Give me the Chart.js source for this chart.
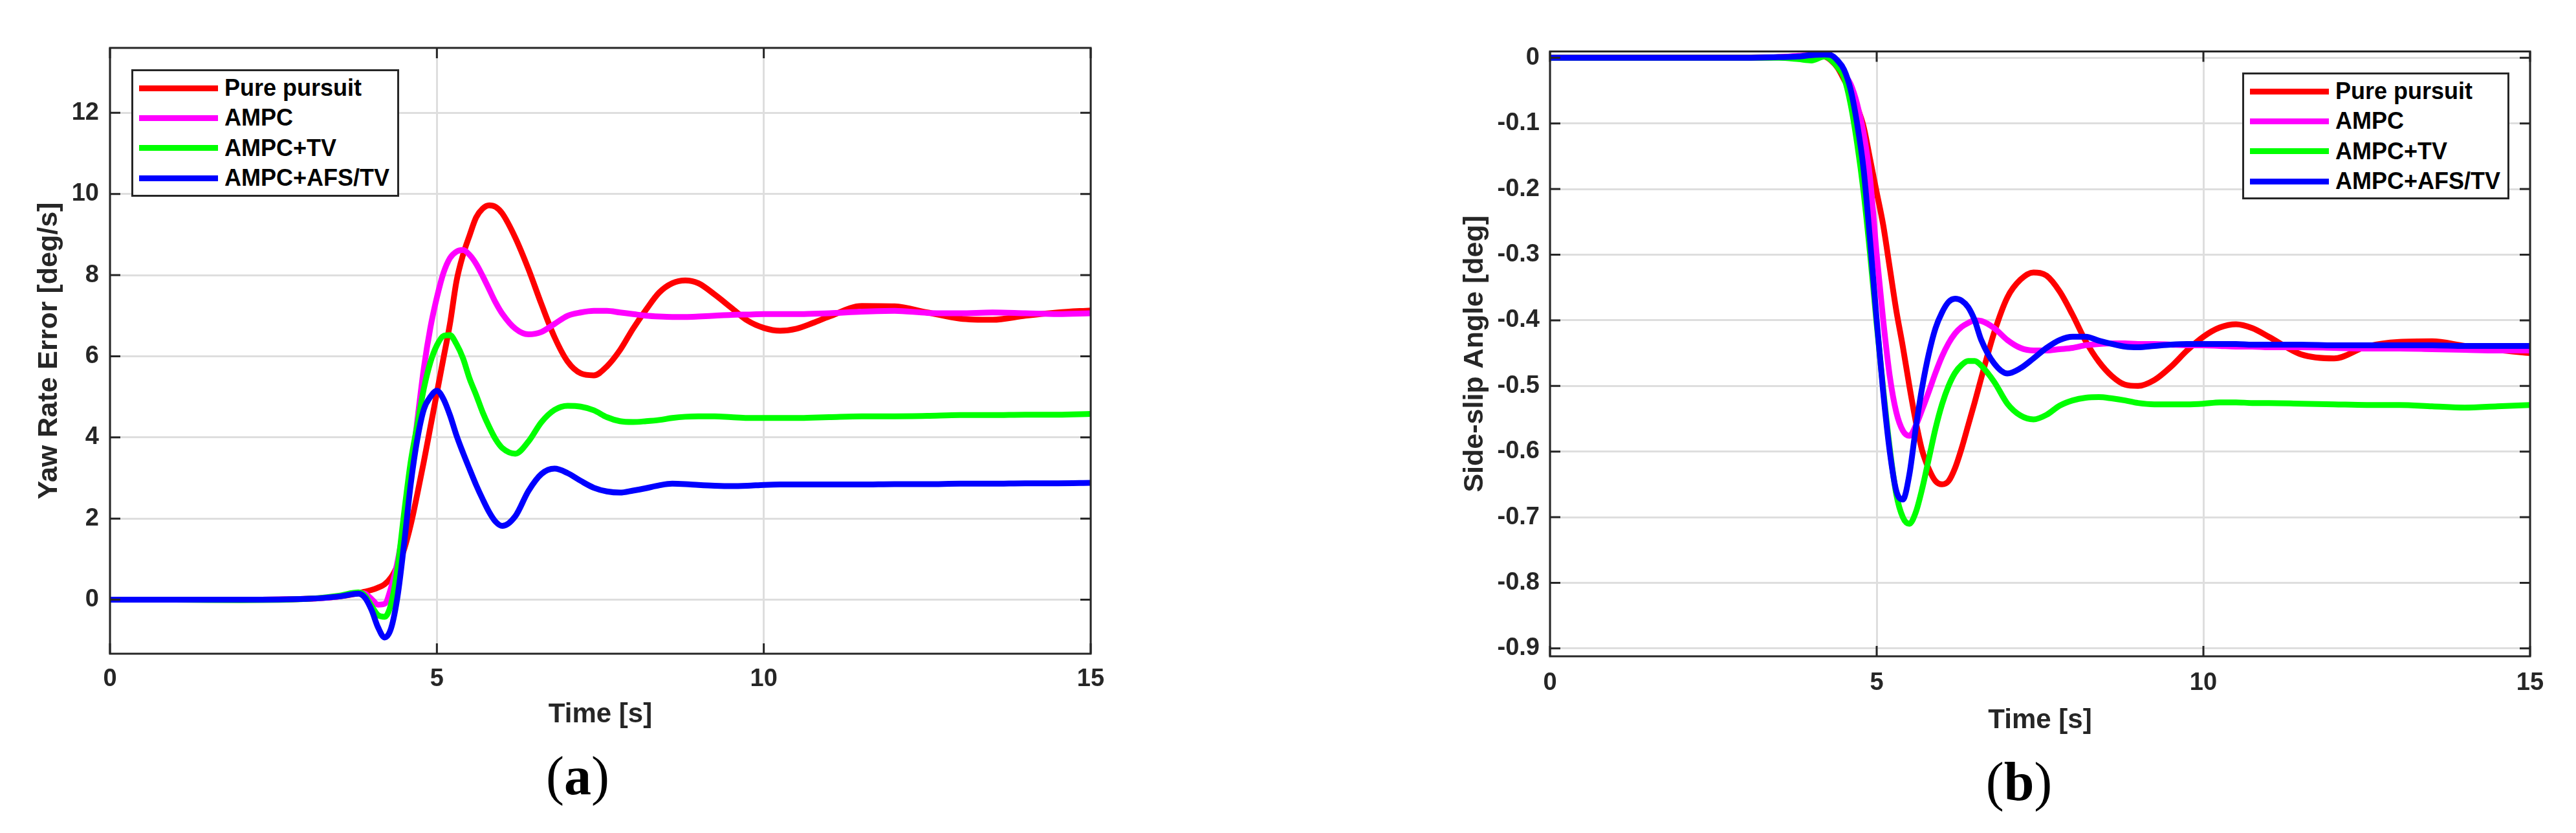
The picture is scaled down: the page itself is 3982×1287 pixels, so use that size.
<!DOCTYPE html>
<html>
<head>
<meta charset="utf-8">
<script src="https://cdn.jsdelivr.net/npm/chart.js@4.4.1/dist/chart.umd.min.js"></script>
<style>
  body { margin: 0; background: #fff; }
  #page { position: relative; width: 3982px; height: 1287px; overflow: hidden; background: #fff; }
  canvas { position: absolute; top: 0; }
  .legend { position: absolute; box-sizing: border-box; border: 3px solid #262626; background: #fff;
            padding: 3px 0 0 9px; font-family: 'Liberation Sans', Arial, sans-serif; font-weight: bold;
            font-size: 36px; color: #000; }
  .legend .row { display: flex; align-items: center; height: 46.3px; white-space: nowrap; }
  .legend .swatch { width: 122px; height: 9px; margin-right: 10px; flex: none; }
  .caption { position: absolute; font-family: 'Liberation Serif', 'Times New Roman', serif; font-size: 84px;
             line-height: 1; transform: translateX(-50%); color: #000; white-space: nowrap; }
</style>
</head>
<body>
<div id="page">
  <canvas id="yawChart" width="1990" height="1287" style="left:0px"></canvas>
  <canvas id="slipChart" width="1992" height="1287" style="left:1990px"></canvas>
  <div class="legend" id="legendA" style="left:203px; top:107px; width:414px; height:197px"></div>
  <div class="legend" id="legendB" style="left:3466px; top:112px; width:413px; height:196px"></div>
  <div class="caption" style="left:893px; top:1157px">(<b>a</b>)</div>
  <div class="caption" style="left:3121px; top:1166px">(<b>b</b>)</div>
</div>
<script>
const seriesNames = ['Pure pursuit', 'AMPC', 'AMPC+TV', 'AMPC+AFS/TV'];
const seriesColors = ['#ff0000', '#ff00ff', '#00ff00', '#0000ff'];

// (a) yaw rate error
const timeA = [0, 1, 2, 3, 3.5, 3.8,
  3.9, 4.0, 4.1, 4.2, 4.3, 4.4, 4.5, 4.6, 4.7, 4.8, 4.9, 5.0, 5.1, 5.2, 5.3, 5.4, 5.5, 5.6, 5.7, 5.8, 5.9, 6.0,
  6.2, 6.4, 6.6, 6.8, 7.0, 7.2, 7.4, 7.6, 7.8, 8.0, 8.2, 8.4, 8.6, 8.8, 9.0,
  9.25, 9.5, 9.75, 10, 10.25, 10.5, 10.75, 11,
  11.5, 12, 12.5, 13, 13.5, 14, 14.5, 15];
const yawPure = [0, 0, 0, 0.02, 0.08, 0.16,
  0.2, 0.24, 0.3, 0.38, 0.55, 0.85, 1.25, 1.85, 2.6, 3.4, 4.25, 5.1, 5.95, 6.8, 7.85, 8.5, 8.98, 9.42, 9.64, 9.72, 9.68, 9.52,
  8.92, 8.15, 7.28, 6.47, 5.87, 5.58, 5.53, 5.75, 6.15, 6.68, 7.15, 7.57, 7.8, 7.87, 7.8,
  7.52, 7.2, 6.88, 6.7, 6.63, 6.68, 6.82, 6.98,
  7.24, 7.23, 7.08, 6.93, 6.9, 7.0, 7.08, 7.13];
const yawAmpc = [0, 0, 0, 0.02, 0.08, 0.17,
  0.15, 0.02, -0.12, -0.1, 0.3, 0.95, 1.9, 3.1, 4.4, 5.7, 6.7, 7.45, 8.05, 8.42, 8.58, 8.62, 8.5, 8.28, 7.98, 7.65, 7.32, 7.05,
  6.68, 6.54, 6.6, 6.8, 7.0, 7.08, 7.12, 7.12, 7.08, 7.04, 7.0, 6.98, 6.97, 6.97, 6.98,
  7.0, 7.02, 7.03, 7.04, 7.04, 7.04, 7.05, 7.06,
  7.1, 7.12, 7.07, 7.06, 7.08, 7.06, 7.04, 7.06];
const yawTv = [0, 0, -0.01, 0.02, 0.1, 0.18,
  0.1, -0.15, -0.38, -0.42, -0.1, 0.8, 2.15, 3.4, 4.3, 5.2, 5.85, 6.27, 6.5, 6.52, 6.3, 5.95, 5.45, 5.05, 4.62, 4.26, 3.95, 3.74,
  3.6, 3.9, 4.38, 4.68, 4.78, 4.76, 4.67, 4.5, 4.4, 4.38, 4.4, 4.43, 4.48, 4.51, 4.52,
  4.52, 4.5, 4.48, 4.48, 4.48, 4.48, 4.49, 4.5,
  4.52, 4.52, 4.53, 4.55, 4.55, 4.56, 4.56, 4.58];
const yawAfsTv = [0, 0, 0, 0.02, 0.08, 0.15,
  0.05, -0.25, -0.68, -0.93, -0.7, 0.1, 1.4, 2.85, 3.95, 4.69, 5.0, 5.15, 4.95, 4.55, 4.05, 3.62, 3.22, 2.83, 2.48, 2.16, 1.92, 1.82,
  2.06, 2.68, 3.1, 3.23, 3.12, 2.93, 2.76, 2.67, 2.64, 2.69, 2.75, 2.82, 2.86, 2.85, 2.83,
  2.81, 2.8, 2.81, 2.83, 2.84, 2.84, 2.84, 2.84,
  2.84, 2.85, 2.85, 2.86, 2.86, 2.87, 2.87, 2.88];

// (b) side-slip angle
const timeB = [0, 1, 2, 3, 3.5, 3.8, 4.0, 4.2,
  4.3, 4.4, 4.5, 4.6, 4.7, 4.8, 4.9, 5.0, 5.1, 5.2, 5.3, 5.4, 5.5, 5.6, 5.7, 5.8, 5.9, 6.0, 6.1, 6.2, 6.3, 6.4, 6.5, 6.6,
  6.8, 7.0, 7.2, 7.4, 7.6, 7.8, 8.0, 8.2, 8.4, 8.6, 8.8, 9.0,
  9.25, 9.5, 9.75, 10, 10.25, 10.5, 10.75, 11,
  11.5, 12, 12.5, 13, 13.5, 14, 14.5, 15];
const slipPure = [0, 0, 0, 0, 0.001, 0.002, 0.003, 0.002,
  -0.004, -0.015, -0.033, -0.052, -0.075, -0.105, -0.155, -0.205, -0.255, -0.32, -0.385, -0.44, -0.5, -0.555, -0.6, -0.627, -0.645, -0.65, -0.645, -0.625, -0.595, -0.56, -0.525, -0.488,
  -0.418, -0.365, -0.338, -0.327, -0.332, -0.356, -0.392, -0.432, -0.463, -0.485, -0.498, -0.5,
  -0.491, -0.471, -0.446, -0.425, -0.411, -0.406, -0.412, -0.425,
  -0.452, -0.458, -0.44, -0.433, -0.432, -0.439, -0.445, -0.45];
const slipAmpc = [0, 0, 0, 0, 0.001, 0.003, 0.004, 0.003,
  -0.003, -0.012, -0.025, -0.04, -0.07, -0.115, -0.185, -0.3, -0.4, -0.485, -0.54, -0.568, -0.576, -0.56, -0.535, -0.508, -0.48, -0.455, -0.435, -0.42, -0.41, -0.404, -0.4, -0.401,
  -0.412, -0.43, -0.442, -0.446, -0.446, -0.444, -0.442, -0.438, -0.436, -0.435, -0.435, -0.436,
  -0.436, -0.437, -0.438, -0.438, -0.439, -0.44, -0.44, -0.441,
  -0.441, -0.442, -0.443, -0.443, -0.444, -0.445, -0.446, -0.446];
const slipTv = [0, 0, 0, 0, 0, -0.002, -0.004, 0.002,
  -0.003, -0.014, -0.03, -0.07, -0.13, -0.205, -0.3, -0.406, -0.505, -0.595, -0.665, -0.7, -0.71, -0.692, -0.655, -0.61, -0.565, -0.528, -0.5, -0.48, -0.468, -0.462, -0.462, -0.469,
  -0.494, -0.527, -0.545, -0.551, -0.544, -0.53, -0.522, -0.518, -0.517, -0.519, -0.522, -0.526,
  -0.528, -0.528, -0.528, -0.527, -0.525, -0.525, -0.526, -0.526,
  -0.527, -0.528, -0.529, -0.529, -0.531, -0.533, -0.531, -0.529];
const slipAfsTv = [0, 0, 0, 0, 0.001, 0.002, 0.004, 0.005,
  0.004, -0.004, -0.018, -0.048, -0.1, -0.17, -0.28, -0.4, -0.51, -0.6, -0.66, -0.673, -0.635, -0.563, -0.5, -0.45, -0.412, -0.388, -0.372, -0.367, -0.37, -0.38, -0.4, -0.43,
  -0.466, -0.481, -0.473, -0.458, -0.442, -0.43, -0.425, -0.425, -0.431, -0.436, -0.44, -0.441,
  -0.439, -0.437, -0.436, -0.436, -0.436, -0.436, -0.437, -0.437,
  -0.437, -0.438, -0.438, -0.438, -0.438, -0.439, -0.439, -0.439];

const FONT = "'Liberation Sans', Arial, Helvetica, sans-serif";
const INK = '#262626';

// matlab style box with inward ticks on all four sides
const boxPlugin = {
  id: 'boxPlugin',
  afterDatasetsDraw(chart) {
    const { ctx, chartArea: a, scales: { x, y } } = chart;
    const len = 16;
    ctx.save();
    ctx.strokeStyle = INK;
    ctx.lineWidth = 3;
    ctx.beginPath();
    x.ticks.forEach(t => {
      const px = x.getPixelForValue(t.value);
      ctx.moveTo(px, a.bottom); ctx.lineTo(px, a.bottom - len);
      ctx.moveTo(px, a.top); ctx.lineTo(px, a.top + len);
    });
    y.ticks.forEach(t => {
      const py = y.getPixelForValue(t.value);
      ctx.moveTo(a.left, py); ctx.lineTo(a.left + len, py);
      ctx.moveTo(a.right, py); ctx.lineTo(a.right - len, py);
    });
    ctx.stroke();
    ctx.strokeRect(a.left, a.top, a.right - a.left, a.bottom - a.top);
    ctx.restore();
  }
};

function points(time, values) {
  return time.map((t, i) => ({ x: t, y: values[i] }));
}

function makeChart(id, time, series, cfg) {
  const ctx = document.getElementById(id).getContext('2d');
  return new Chart(ctx, {
    type: 'line',
    data: {
      datasets: series.map((vals, i) => ({
        label: seriesNames[i],
        data: points(time, vals),
        borderColor: seriesColors[i],
        borderWidth: 9,
        pointRadius: 0,
        fill: false,
        cubicInterpolationMode: 'monotone',
        order: series.length - i
      }))
    },
    options: {
      responsive: false,
      animation: false,
      devicePixelRatio: 1,
      layout: { padding: cfg.padding },
      plugins: { legend: { display: false }, tooltip: { enabled: false } },
      scales: {
        x: {
          type: 'linear', min: 0, max: 15,
          afterFit: s => { s.height = cfg.xHeight; },
          ticks: { stepSize: 5, includeBounds: false, padding: cfg.xPad, color: INK,
                   font: { family: FONT, size: 38, weight: 'bold', lineHeight: 1.2 } },
          grid: { color: '#dedede', lineWidth: 3, drawTicks: false },
          border: { display: false },
          title: { display: true, text: 'Time [s]', color: INK, padding: { top: 0, bottom: 0 },
                   font: { family: FONT, size: 42, weight: 'bold', lineHeight: 1.2 } }
        },
        y: {
          type: 'linear', min: cfg.yMin, max: cfg.yMax,
          afterFit: s => { s.width = cfg.yWidth; },
          ticks: { stepSize: cfg.yStep, includeBounds: false, padding: cfg.yPad, color: INK,
                   font: { family: FONT, size: 38, weight: 'bold', lineHeight: 1.2 } },
          grid: { color: '#dedede', lineWidth: 3, drawTicks: false },
          border: { display: false },
          title: { display: true, text: cfg.yTitle, color: INK, padding: { top: cfg.yTitlePad, bottom: 0 },
                   font: { family: FONT, size: 43, weight: 'bold', lineHeight: 1.2 } }
        }
      }
    },
    plugins: [boxPlugin]
  });
}

function buildLegend(id) {
  const box = document.getElementById(id);
  seriesNames.forEach((name, i) => {
    const row = document.createElement('div');
    row.className = 'row';
    const sw = document.createElement('span');
    sw.className = 'swatch';
    sw.style.background = seriesColors[i];
    const txt = document.createElement('span');
    txt.textContent = name;
    row.appendChild(sw);
    row.appendChild(txt);
    box.appendChild(row);
  });
}

makeChart('yawChart', timeA, [yawPure, yawAmpc, yawTv, yawAfsTv], {
  padding: { left: 0, top: 74, right: 304, bottom: 157 },
  xHeight: 120, yWidth: 170, xPad: 17, yPad: 17,
  yMin: -1.33, yMax: 13.6, yStep: 2,
  yTitle: 'Yaw Rate Error [deg/s]', yTitlePad: 50
});

makeChart('slipChart', timeB, [slipPure, slipAmpc, slipTv, slipAfsTv], {
  padding: { left: 0, top: 79.5, right: 71, bottom: 148 },
  xHeight: 125, yWidth: 406, xPad: 19, yPad: 16,
  yMin: -0.912, yMax: 0.0097, yStep: 0.1,
  yTitle: 'Side-slip Angle [deg]', yTitlePad: 264
});

buildLegend('legendA');
buildLegend('legendB');
</script>
</body>
</html>
